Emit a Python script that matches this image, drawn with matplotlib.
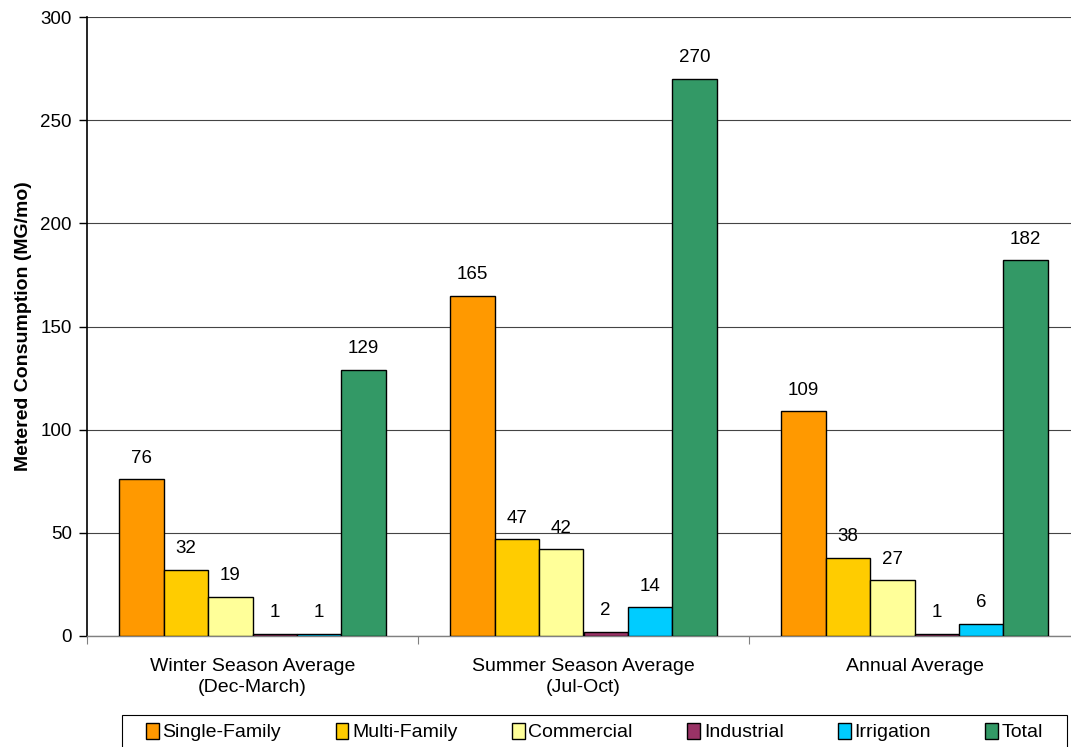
import matplotlib
matplotlib.use("Agg")
import matplotlib.pyplot as plt
from matplotlib.patches import Rectangle
import numpy as np

plt.rcParams['font.family'] = ['Liberation Sans', 'DejaVu Sans']

groups = ["Winter Season Average\n(Dec-March)", "Summer Season Average\n(Jul-Oct)", "Annual Average"]
series = ["Single-Family", "Multi-Family", "Commercial", "Industrial", "Irrigation", "Total"]
single_family = [76, 165, 109]
multi_family = [32, 47, 38]
commercial = [19, 42, 27]
industrial = [1, 2, 1]
irrigation = [1, 14, 6]
total = [129, 270, 182]
colors = ["#FF9900", "#FFCC00", "#FFFF99", "#993366", "#00CCFF", "#339966"]

values = [single_family, multi_family, commercial, industrial, irrigation, total]

W, H = 1071, 747
fig = plt.figure(figsize=(W / 100, H / 100), dpi=100)
ax = fig.add_axes([87 / W, 111 / H, 993 / W, 619 / H])

x = np.arange(len(groups))
width = 0.134
offsets = (np.arange(len(series)) - 2.5) * width
handles = []
for vals, name, col, off in zip(values, series, colors, offsets):
    bars = ax.bar(x + off, vals, width, color=col, edgecolor="black", linewidth=1.0,
                  label=name, zorder=3)
    ax.bar_label(bars, labels=[str(v) for v in vals], padding=9, fontsize=13.5)
    handles.append(bars)

ax.set_ylim(0, 300)
ax.set_xlim(-0.5, 2.5)
ax.set_yticks(range(0, 301, 50))
ax.yaxis.grid(True, color="#444444", linewidth=0.8, zorder=0)
ax.set_axisbelow(True)
ax.tick_params(axis="y", labelsize=13.5, length=6, width=1, direction="out", pad=5)

# group labels centred under each cluster, ticks at cluster boundaries
ax.set_xticks([-0.5, 0.5, 1.5, 2.5])
ax.set_xticklabels([])
ax.tick_params(axis="x", length=6, width=0.8, color="#808080", direction="out")
for xi, g in zip(x, groups):
    ax.text(xi, -10.5, g, ha="center", va="top", fontsize=14, linespacing=1.3)

for s in ["top", "right"]:
    ax.spines[s].set_visible(False)
ax.spines["left"].set_color("black")
ax.spines["left"].set_linewidth(1.2)
ax.spines["bottom"].set_color("#808080")
ax.spines["bottom"].set_linewidth(1.0)

ax.set_ylabel("Metered Consumption (MG/mo)", fontsize=14, fontweight="bold",
              family=['Liberation Sans Narrow', 'Liberation Sans', 'DejaVu Sans'], labelpad=6)

# legend box running off the bottom edge
fig.patches.append(Rectangle((122 / W, -0.05), 945 / W, 0.05 + (H - 715) / H,
                             transform=fig.transFigure, facecolor="white",
                             edgecolor="black", linewidth=0.8, zorder=5))
leg = fig.legend(handles=handles, labels=series, loc="upper left",
                 bbox_to_anchor=(146 / W, 1 - 723 / H), ncol=6, frameon=False,
                 fontsize=14, handlelength=0.65, handleheight=0.85, handletextpad=0.2,
                 columnspacing=2.8, borderpad=0, borderaxespad=0)
leg.set_zorder(6)

fig.savefig("out.png", dpi=100)
